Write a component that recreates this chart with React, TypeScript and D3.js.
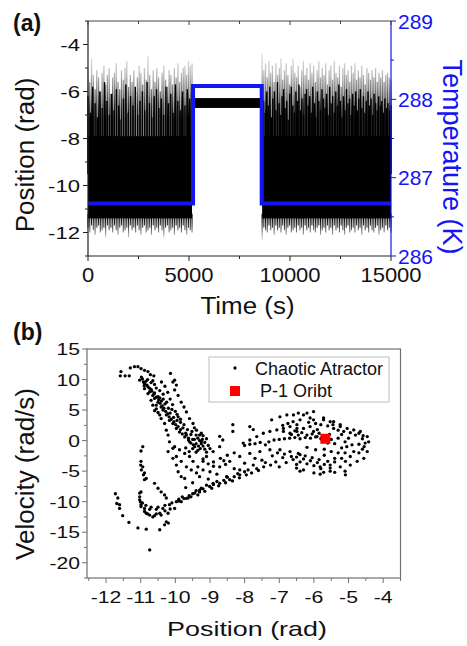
import React from "react";
import * as d3 from "d3";

const W = 467;
const H = 646;
const FONT = "'Liberation Sans', Arial, Helvetica, sans-serif";

// ---------- Panel (a) data ----------
const timeTicks = [0, 5000, 10000, 15000];
const timeMinor = [2500, 7500, 12500];
const posTicksA = [-12, -10, -8, -6, -4];
const posMinorA = [-13, -11, -9, -7, -5, -3];
const tempTicks = [286, 287, 288, 289];
const tempMinor = [286.5, 287.5, 288.5];

const chaosSeg1 = [0, 5150];
const chaosSeg2 = [8620, 15000];
const bodyRange = [-11.4, -7.9];

const peaks1 = [-5.0, -5.6, -4.6, -5.3, -5.9, -5.1, -5.4, -6.0, -5.2, -4.9, -5.7, -5.3, -5.0, -6.1, -5.4, -5.2, -4.8, -5.6, -5.9, -5.1,
  -5.5, -5.0, -4.7, -5.8, -5.3, -5.6, -5.1, -6.0, -5.4, -4.9, -5.2, -5.7, -5.0, -5.5, -4.5, -5.3, -5.9, -5.1, -5.6, -5.0,
  -5.4, -6.0, -5.2, -4.9, -5.5, -5.8, -5.1, -5.3, -5.7, -5.0, -5.4, -4.8, -5.6, -5.2, -5.0, -4.9, -5.3, -4.7, -4.9, -4.8];
const peaks2 = [-4.4, -5.1, -4.8, -5.4, -4.7, -5.2, -4.9, -5.6, -4.8, -5.3, -5.0, -4.6, -5.5, -5.1, -4.8, -5.3, -5.7, -4.9, -4.6, -5.2,
  -5.4, -4.9, -5.8, -5.1, -4.7, -5.3, -5.0, -5.5, -4.8, -5.2, -4.9, -5.6, -5.1, -4.7, -5.4, -5.0, -5.3, -4.8, -5.7, -5.1,
  -4.9, -5.5, -4.7, -5.2, -5.4, -4.9, -5.8, -5.0, -4.8, -5.3, -5.1, -5.6, -4.9, -5.2, -4.8, -5.5, -5.1, -5.4, -4.9, -5.3,
  -5.7, -5.0, -5.2, -5.5, -5.1, -5.4, -5.0, -5.6, -5.2, -5.4, -5.1, -5.6, -5.3, -5.2, -5.4, -5.5];
const darkPeaks1 = [-6.2, -6.9, -5.8, -6.5, -7.1, -6.0, -6.7, -5.6, -6.4, -7.0, -6.1, -6.8, -5.9, -6.6, -7.2, -6.3, -5.7, -6.9, -6.2, -6.6,
  -5.8, -7.0, -6.4, -6.0, -6.8, -5.6, -6.5, -7.1, -6.2, -5.9, -6.7, -6.3, -7.0, -5.8, -6.5, -6.1, -6.9, -5.7, -6.4, -6.8,
  -6.0, -6.6, -5.9, -6.3, -6.1];
const darkPeaks2 = [-5.7, -6.4, -6.9, -6.0, -6.6, -5.8, -7.1, -6.3, -6.0, -6.8, -5.6, -6.5, -7.0, -6.2, -5.9, -6.7, -6.4, -7.2, -6.1, -5.8,
  -6.6, -6.9, -6.0, -6.4, -5.7, -6.8, -6.3, -7.0, -6.1, -5.9, -6.6, -6.2, -6.9, -5.8, -6.5, -7.1, -6.0, -6.4, -6.8, -5.9,
  -6.3, -6.7, -6.1, -7.0, -5.8, -6.5, -6.2, -6.9, -6.0, -6.6, -5.7, -6.4, -7.1, -6.2, -6.8, -5.9, -6.5, -6.3, -7.0, -6.1,
  -6.6, -6.0, -6.8, -6.3, -5.9, -6.7, -6.2, -6.9, -6.4, -6.0, -6.6, -6.3, -7.0, -6.1, -6.5, -6.8, -6.2, -6.6, -6.4, -6.9,
  -6.3, -6.7, -6.5, -6.8, -6.6];
const troughs1 = [-11.8, -12.0, -11.7, -11.9, -12.1, -11.8, -11.7, -12.0, -11.9, -11.8, -12.2, -11.7, -11.9, -11.8, -12.0, -11.7, -11.9, -12.1, -11.8, -11.7,
  -12.0, -11.9, -11.8, -12.2, -11.7, -11.9, -11.8, -12.0, -11.7, -11.9, -12.1, -11.8, -11.7, -12.0, -11.9, -11.8, -12.1, -11.7, -11.9, -11.8,
  -12.0, -11.7, -11.9, -12.2, -11.8, -11.7, -12.0, -11.9, -11.8, -12.1, -11.7, -11.9, -11.8, -12.0, -11.7, -11.9, -12.1, -11.8, -11.9, -12.0];
const troughs2 = [-12.3, -11.8, -11.9, -12.0, -11.7, -11.9, -11.8, -12.1, -11.7, -11.9, -11.8, -12.0, -11.7, -11.9, -12.1, -11.8, -11.7, -12.0, -11.9, -11.8,
  -12.0, -11.7, -11.9, -11.8, -12.1, -11.7, -11.9, -11.8, -12.0, -11.7, -11.9, -12.0, -11.8, -11.7, -12.1, -11.9, -11.8, -12.0, -11.7, -11.9,
  -11.8, -12.1, -11.7, -11.9, -11.8, -12.0, -11.7, -11.9, -12.1, -11.8, -11.7, -12.0, -11.9, -11.8, -12.0, -11.7, -11.9, -11.8, -12.1, -11.7,
  -11.9, -11.8, -12.0, -11.7, -11.9, -12.0, -11.8, -11.7, -12.1, -11.9, -11.8, -12.0, -11.7, -11.9, -11.8, -12.0];

const p1BandTime = [5200, 8600];
const p1BandPos = [-6.7, -6.28];

const tempTimes = [0, 5200, 8600, 15000];
const tempValues = [286.67, 288.17, 286.67, 286.67];

// ---------- Panel (b) data ----------
const posTicksB = [-12, -11, -10, -9, -8, -7, -6, -5, -4];
const posMinorB = [-12.5, -11.5, -10.5, -9.5, -8.5, -7.5, -6.5, -5.5, -4.5, -3.5];
const velTicks = [15, 10, 5, 0, -5, -10, -15, -20];
const velMinor = [12.5, 7.5, 2.5, -2.5, -7.5, -12.5, -17.5, -22.5];

const attractor: [number, number][] = [
  [-11.59, 10.6], [-11.45, 10.6], [-11.33, 10.6], [-11.57, 11.3], [-11.3, 11.9], [-11.18, 12.1], [-11.08, 12.1], [-10.99, 11.8], [-10.89, 11.5], [-10.79, 11.3], [-10.72, 10.8], [-10.62, 10.6], [-10.14, 11.0], [-10.07, 9.6],
  [-11.03, 9.9], [-10.89, 9.3], [-10.79, 8.8], [-10.74, 8.0], [-10.65, 7.4], [-10.6, 6.9], [-10.5, 6.3], [-10.41, 5.5], [-10.36, 5.0], [-10.26, 4.2], [-10.17, 3.3], [-10.07, 2.8], [-9.97, 2.0], [-9.88, 1.4], [-9.73, 0.6], [-9.59, -0.2], [-9.44, -1.0],
  [-10.89, 8.5], [-10.79, 7.7], [-10.7, 6.6], [-10.65, 5.8], [-10.55, 5.2], [-10.45, 4.2], [-10.41, 3.6], [-10.31, 2.8], [-10.26, 1.7], [-10.21, 0.9],
  [-10.02, 9.9], [-9.97, 9.1], [-10.02, 8.3], [-9.92, 7.4], [-9.83, 6.3], [-9.75, 5.5], [-9.68, 4.7], [-9.59, 3.6], [-9.49, 2.8], [-9.39, 1.7], [-9.3, 0.9], [-9.25, -0.2],
  [-10.4, 9.6], [-10.3, 8.9], [-10.22, 7.9], [-10.15, 6.8], [-10.08, 5.9], [-10.0, 4.8], [-9.92, 3.9], [-9.85, 3.0], [-9.78, 2.1], [-9.7, 1.2],
  [-10.95, 10.1], [-10.85, 9.7], [-10.7, 9.5], [-10.6, 9.2], [-10.55, 8.6], [-10.45, 8.2], [-10.35, 7.6], [-10.5, 7.2], [-10.4, 6.5], [-10.3, 6.0], [-10.2, 5.3], [-10.15, 4.5], [-10.05, 3.8], [-9.95, 3.3], [-10.55, 5.8], [-10.6, 4.9], [-10.5, 4.6],
  [-10.98, 10.4], [-10.8, 10.0], [-10.65, 9.8], [-10.9, 9.0], [-10.7, 8.4], [-10.6, 7.8], [-10.45, 7.0], [-10.35, 6.8], [-10.25, 6.3], [-10.1, 5.1], [-9.95, 4.3], [-9.85, 3.5], [-9.75, 2.6], [-9.65, 1.8], [-9.55, 1.0], [-9.62, 0.4], [-9.5, 0.2],
  [-10.92, 9.6], [-10.82, 9.1], [-10.75, 8.6], [-10.68, 8.1], [-10.62, 7.6], [-10.55, 7.1], [-10.48, 6.7], [-10.44, 6.1], [-10.38, 5.7], [-10.33, 5.3], [-10.28, 4.8], [-10.22, 4.4], [-10.18, 3.9], [-10.12, 3.5], [-10.04, 3.1], [-9.99, 2.6], [-9.92, 2.3], [-9.85, 1.8], [-9.8, 1.1], [-9.68, 0.9], [-9.62, 0.1], [-9.55, -0.4], [-9.48, -0.7], [-9.4, 0.9], [-9.52, 1.5], [-9.45, 2.1],
  [-9.35, 0.4], [-9.3, 0.0], [-9.25, -0.5], [-9.2, -0.9], [-9.15, -0.3], [-9.1, 0.3], [-9.2, 0.8], [-9.28, -1.3], [-9.4, -0.5], [-9.35, -1.6], [-9.15, -1.4], [-9.05, -0.8], [-9.1, -1.9], [-9.25, 1.2], [-9.45, 0.2], [-9.5, -1.3], [-9.6, -1.8], [-9.7, -1.2], [-9.33, -0.9], [-9.22, 0.2], [-9.4, -1.9], [-9.0, -1.3],
  [-10.17, -0.2], [-10.07, -1.25], [-9.97, -2.6], [-9.83, -3.4], [-9.68, -4.3], [-9.54, -4.8], [-9.39, -5.3],
  [-10.02, -1.0], [-9.88, -1.5], [-9.73, -2.1], [-9.59, -2.6], [-9.49, -3.4], [-9.35, -4.3], [-9.2, -4.8],
  [-10.21, -1.8], [-10.07, -2.9], [-9.97, -4.0], [-9.92, -5.1], [-9.83, -5.9], [-9.73, -6.2],
  [-10.94, -1.0], [-10.99, -1.7], [-10.99, -3.4], [-11.0, -4.0], [-10.94, -4.3], [-10.98, -4.8], [-10.89, -5.3], [-10.92, -5.6], [-10.84, -6.2], [-10.89, -6.4],
  [-10.99, -8.4], [-11.03, -9.2], [-11.01, -10.0], [-10.99, -10.8], [-11.03, -8.6], [-11.03, -9.7], [-10.99, -10.5],
  [-10.89, -11.6], [-10.74, -12.2], [-10.6, -12.3], [-10.41, -12.2], [-10.21, -11.9], [-10.02, -11.1], [-9.83, -10.0], [-9.63, -9.4], [-9.44, -8.6], [-9.25, -7.8],
  [-10.89, -11.1], [-10.74, -11.25], [-10.55, -11.25], [-10.36, -11.1], [-10.17, -10.5], [-9.97, -10.0], [-9.68, -9.45], [-9.3, -8.4], [-9.01, -7.5], [-8.72, -7.0], [-8.43, -6.4], [-8.14, -5.6],
  [-10.95, -10.2], [-10.85, -10.6], [-10.7, -10.9], [-10.5, -10.9], [-10.3, -10.6], [-10.1, -10.2], [-9.9, -9.6], [-9.8, -9.2], [-9.6, -9.0], [-9.5, -8.7], [-9.4, -8.2], [-9.2, -7.9], [-9.1, -7.3], [-8.9, -7.2], [-8.8, -6.7], [-8.6, -6.5], [-8.5, -6.0], [-8.3, -5.9], [-8.2, -5.4], [-8.0, -5.1], [-7.9, -4.8],
  [-9.9, -9.9], [-9.75, -9.5], [-9.55, -9.2], [-9.35, -8.9], [-9.15, -8.3], [-8.95, -7.8], [-8.75, -7.4], [-8.55, -6.9], [-8.35, -6.6], [-8.15, -6.1], [-7.95, -5.6], [-7.8, -5.3], [-7.65, -4.6], [-7.45, -4.3], [-7.25, -4.0], [-10.8, -12.0], [-10.55, -12.0], [-10.3, -11.5], [-10.15, -11.2],
  [-10.84, -11.9], [-10.65, -12.5], [-10.45, -11.9],
  [-11.73, -8.7], [-11.69, -10.3], [-11.61, -11.1], [-11.52, -12.3], [-11.34, -13.4], [-11.08, -14.3], [-10.84, -14.5], [-10.45, -14.6], [-10.26, -13.3], [-10.2, -13.5], [-10.74, -17.9], [-11.66, -9.4], [-11.61, -10.5], [-10.31, -13.8],
  [-10.6, -7.0], [-10.5, -7.8], [-10.41, -8.4], [-10.31, -8.9], [-10.26, -9.4],
  [-9.3, -5.9], [-9.0, -5.1], [-8.72, -4.3], [-8.43, -3.4], [-8.14, -2.6], [-7.85, -2.1], [-7.56, -1.8], [-7.27, -1.5], [-6.98, -1.5], [-6.69, -1.8], [-6.4, -2.3],
  [-9.3, -8.1], [-8.91, -7.0], [-8.52, -5.9], [-8.14, -4.8], [-7.75, -4.0], [-7.4, -3.6], [-7.1, -3.5], [-6.8, -3.6], [-6.5, -3.9],
  [-8.9, -4.2], [-8.6, -3.3], [-8.3, -4.6], [-8.0, -3.7], [-7.7, -2.9], [-7.5, -3.2], [-7.2, -2.5], [-6.9, -2.8], [-7.0, -4.3], [-7.6, -4.9], [-8.8, -5.5], [-9.05, -6.3], [-8.55, -3.9], [-9.5, -6.9], [-9.7, -7.7],
  [-9.2, -3.0], [-9.05, -3.8], [-8.9, -3.5], [-8.7, -2.9], [-8.5, -2.4], [-8.3, -2.0],
  [-8.04, -0.4], [-7.85, 0.1], [-7.65, 0.66], [-7.46, 1.2], [-7.27, 1.5], [-7.07, 1.75], [-6.88, 2.0], [-6.69, 2.3], [-6.49, 2.6],
  [-8.34, 2.6], [-8.34, 1.5], [-7.85, 2.3], [-7.75, 1.8], [-7.22, 3.4], [-6.98, 3.9], [-6.78, 4.2], [-6.59, 4.2], [-6.45, 4.5], [-6.88, 1.5], [-6.69, 1.2], [-6.49, 1.5], [-8.72, -1.0], [-8.63, 0.1], [-8.72, 0.7], [-8.91, -1.8], [-9.1, -2.6], [-9.2, -3.4],
  [-8.0, -0.8], [-7.85, -0.6], [-7.7, -0.5], [-7.55, -0.3], [-7.4, -0.7], [-7.3, -0.2], [-7.15, 0.1], [-7.0, 0.2], [-6.85, 0.3], [-6.7, 0.4], [-6.55, 0.5], [-6.4, 0.3], [-6.25, 0.5], [-6.1, 0.4], [-5.95, 0.6], [-5.8, 0.3],
  [-6.3, 4.2], [-6.01, 3.4], [-5.72, 3.4], [-5.43, 3.1], [-5.24, 2.6], [-5.04, 2.0], [-4.85, 1.75], [-4.66, 1.5], [-4.46, 0.66], [-4.42, -0.2],
  [-6.2, 4.5], [-6.11, 3.7], [-6.01, 4.75], [-5.72, 3.7], [-5.53, 3.1], [-5.43, 2.0], [-5.24, 2.3], [-5.14, 1.5],
  [-6.49, 2.0], [-6.3, 2.0], [-6.11, 2.3], [-6.01, 1.5], [-5.91, 0.66],
  [-5.0, 0.4], [-4.9, -0.7], [-4.85, -1.8], [-4.95, -2.6], [-5.09, -3.4],
  [-4.46, -1.8], [-4.56, -2.9], [-4.75, -3.4], [-4.95, -4.0], [-5.24, -4.3], [-5.53, -4.5], [-5.82, -4.3],
  [-6.5, -2.7], [-6.3, -3.0], [-6.1, -3.3], [-5.9, -3.6], [-5.7, -3.9], [-5.53, -4.0], [-6.6, -3.1], [-6.4, -3.5], [-6.2, -3.8], [-6.0, -4.1], [-5.8, -4.6], [-6.3, -4.8], [-6.0, -5.3], [-5.4, -5.2], [-5.1, -5.0], [-6.5, -4.5],
  [-6.65, 1.0], [-6.55, 1.6], [-6.45, 0.9], [-6.35, 1.3], [-6.2, 0.9], [-6.05, 1.1], [-5.9, 1.8], [-5.85, 1.2], [-5.75, 0.8], [-5.55, 1.0], [-5.5, 0.2], [-5.4, -0.5], [-5.3, 0.4], [-5.6, -0.4],
  [-6.2, -1.1], [-5.95, -1.5], [-5.7, -1.4], [-5.5, -1.8], [-5.3, -2.0], [-5.7, -2.4], [-5.4, -2.9], [-5.2, -1.2], [-4.7, -0.6], [-4.6, 0.3], [-4.55, -1.0], [-4.8, 0.9], [-4.7, -2.0],
  [-6.9, 2.5], [-6.75, 2.8], [-6.6, 3.1], [-6.4, 3.4], [-6.15, 3.0], [-5.95, 2.8], [-5.8, 2.6], [-5.6, 2.4], [-5.45, 2.6], [-5.3, 1.7], [-5.2, 1.0], [-5.1, -0.2], [-5.05, -1.0], [-5.1, -2.0], [-5.2, -2.9], [-5.4, -3.5], [-5.6, -3.4], [-5.85, -3.1], [-6.05, -2.8], [-6.25, -2.5], [-6.45, -2.1], [-6.65, -2.6], [-6.85, -2.2], [-7.05, -2.0], [-4.6, -1.4], [-4.52, -0.4], [-4.58, 0.8], [-4.7, 1.2], [-4.95, 1.3],
  [-6.4, -5.0], [-5.82, -5.5], [-5.72, -5.2], [-5.53, -5.0], [-5.09, -5.6],
];
const p1Orbit: [number, number][] = [[-5.67, 0.3]];
const legendLabels = ["Chaotic Atractor", "P-1 Oribt"];

// ---------- helpers ----------
function Txt(props: {
  x: number; y: number; size: number; sx?: number; rot?: number; anchor?: string;
  fill?: string; weight?: string; children: React.ReactNode;
}) {
  const { x, y, size, sx = 1, rot = 0, anchor = "middle", fill = "#111", weight = "normal", children } = props;
  return (
    <text
      transform={`translate(${x},${y}) rotate(${rot}) scale(${sx},1)`}
      fontSize={size}
      fontFamily={FONT}
      textAnchor={anchor}
      fill={fill}
      fontWeight={weight}
    >
      {children}
    </text>
  );
}

export default function App() {
  const xA = d3.scaleLinear().domain([0, 15000]).range([88, 391]);
  const yA = d3.scaleLinear().domain([-13, -3]).range([256, 21]);
  const yT = d3.scaleLinear().domain([286, 289]).range([256, 21]);

  const xB = d3.scaleLinear().domain([-12.55, -3.5]).range([87, 400.5]);
  const yB = d3.scaleLinear().domain([-22.5, 15]).range([578, 349]);

  const idxScale = (arr: number[], seg: number[]) => d3.scaleLinear().domain([0, arr.length - 1]).range(seg);

  const tempLine = d3
    .line<number>()
    .x((_, i) => xA(tempTimes[i]))
    .y((d) => yT(d))
    .curve(d3.curveStepAfter)(tempValues) as string;

  const [a0, a1] = [xA.range()[0], xA.range()[1]];
  const [b0, b1] = [xB.range()[0], xB.range()[1]];
  const axisA = "#222";
  const axisB = "#707070";
  const blue = "#1414f5";

  const spikes = (peaks: number[], dark: number[], troughs: number[], seg: number[], key: string) => {
    const sp = idxScale(peaks, seg);
    const sd = idxScale(dark, seg);
    const st = idxScale(troughs, seg);
    return (
      <g key={key}>
        {peaks.map((p, i) => (
          <line key={"p" + i} x1={xA(sp(i))} x2={xA(sp(i))} y1={yA(-9.5)} y2={yA(p)} stroke="url(#spkGrad)" strokeWidth={1.3} />
        ))}
        {dark.map((p, i) => (
          <line key={"d" + i} x1={xA(sd(i))} x2={xA(sd(i))} y1={yA(-9.5)} y2={yA(p)} stroke="#000" strokeWidth={1.4} />
        ))}
        {troughs.map((t, i) => (
          <line key={"t" + i} x1={xA(st(i))} x2={xA(st(i))} y1={yA(-11.2)} y2={yA(t)} stroke="url(#trGrad)" strokeWidth={1.1} />
        ))}
      </g>
    );
  };

  return (
    <svg width={W} height={H} style={{ position: "absolute", left: 0, top: 0, background: "#fff" }}>
      <defs>
        <linearGradient id="spkGrad" gradientUnits="userSpaceOnUse" x1={0} x2={0} y1={yA(-4.4)} y2={yA(-7.2)}>
          <stop offset="0" stopColor="#e2e2e2" />
          <stop offset="0.3" stopColor="#bababa" />
          <stop offset="0.55" stopColor="#7a7a7a" />
          <stop offset="0.8" stopColor="#2a2a2a" />
          <stop offset="1" stopColor="#000" />
        </linearGradient>
        <linearGradient id="trGrad" gradientUnits="userSpaceOnUse" x1={0} x2={0} y1={yA(-11.4)} y2={yA(-12.2)}>
          <stop offset="0" stopColor="#000" />
          <stop offset="0.45" stopColor="#444" />
          <stop offset="1" stopColor="#c8c8c8" />
        </linearGradient>
      </defs>

      {/* ================= Panel (a) ================= */}
      <Txt x={13} y={31} size={23} anchor="start" weight="bold">(a)</Txt>

      {[chaosSeg1, chaosSeg2].map((s, i) => (
        <rect key={i} x={xA(s[0])} width={xA(s[1]) - xA(s[0])} y={yA(bodyRange[1])} height={yA(bodyRange[0]) - yA(bodyRange[1])} fill="#000" />
      ))}
      {spikes(peaks1, darkPeaks1, troughs1, chaosSeg1, "s1")}
      {spikes(peaks2, darkPeaks2, troughs2, chaosSeg2, "s2")}
      <rect x={xA(p1BandTime[0])} width={xA(p1BandTime[1]) - xA(p1BandTime[0])} y={yA(p1BandPos[1])} height={yA(p1BandPos[0]) - yA(p1BandPos[1])} fill="#000" />
      <path d={tempLine} fill="none" stroke={blue} strokeWidth={4} />

      <line x1={a0} x2={a1} y1={21} y2={21} stroke="#444" strokeWidth={1} />
      <line x1={a0} x2={a0} y1={21} y2={256} stroke={axisA} strokeWidth={1.2} />
      <line x1={a0} x2={a1} y1={256} y2={256} stroke={axisA} strokeWidth={1.2} />
      <line x1={a1} x2={a1} y1={21} y2={256} stroke={blue} strokeWidth={1.2} />

      {timeTicks.map((t) => (
        <g key={t}>
          <line x1={xA(t)} x2={xA(t)} y1={256} y2={261} stroke={axisA} />
          <line x1={xA(t)} x2={xA(t)} y1={21} y2={25} stroke="#444" />
          <Txt x={xA(t)} y={282} size={20} sx={1.1}>{String(t)}</Txt>
        </g>
      ))}
      {timeMinor.map((t) => (
        <g key={t}>
          <line x1={xA(t)} x2={xA(t)} y1={256} y2={259} stroke={axisA} />
          <line x1={xA(t)} x2={xA(t)} y1={21} y2={24} stroke="#444" />
        </g>
      ))}
      {posTicksA.map((v) => (
        <g key={v}>
          <line x1={a0 - 5} x2={a0} y1={yA(v)} y2={yA(v)} stroke={axisA} />
          <Txt x={80} y={yA(v) + 6} size={17} sx={1.3} anchor="end">{String(v)}</Txt>
        </g>
      ))}
      {posMinorA.map((v) => (
        <line key={v} x1={a0 - 3} x2={a0} y1={yA(v)} y2={yA(v)} stroke={axisA} />
      ))}
      {tempTicks.map((v) => (
        <g key={v}>
          <line x1={a1} x2={a1 + 5} y1={yT(v)} y2={yT(v)} stroke={blue} />
          <Txt x={398} y={yT(v) + 7.5} size={21} anchor="start" fill={blue}>{String(v)}</Txt>
        </g>
      ))}
      {tempMinor.map((v) => (
        <line key={v} x1={a1} x2={a1 + 3} y1={yT(v)} y2={yT(v)} stroke={blue} />
      ))}

      <Txt x={247.5} y={314} size={24} sx={1.08}>Time (s)</Txt>
      <Txt x={34} y={155} size={26} rot={-90}>Position (rad)</Txt>
      <Txt x={443} y={157} size={27} rot={90} fill={blue}>Temperature (K)</Txt>

      {/* ================= Panel (b) ================= */}
      <Txt x={13} y={340} size={23} anchor="start" weight="bold">(b)</Txt>

      <rect x={b0} y={349} width={b1 - b0} height={578 - 349} fill="none" stroke={axisB} strokeWidth={1.2} />

      {attractor.map((d, i) => (
        <circle key={i} cx={xB(d[0])} cy={yB(d[1])} r={1.65} fill="#000" />
      ))}
      {p1Orbit.map((d, i) => (
        <rect key={i} x={xB(d[0]) - 5} y={yB(d[1]) - 5} width={10} height={10} fill="#ff0000" />
      ))}

      {posTicksB.map((v) => (
        <g key={v}>
          <line x1={xB(v)} x2={xB(v)} y1={578} y2={583} stroke={axisB} />
          <Txt x={xB(v)} y={602.5} size={17} sx={1.25}>{String(v)}</Txt>
        </g>
      ))}
      {posMinorB.map((v) => (
        <line key={v} x1={xB(v)} x2={xB(v)} y1={578} y2={581} stroke={axisB} />
      ))}
      {velTicks.map((v) => (
        <g key={v}>
          <line x1={b0 - 5} x2={b0} y1={yB(v)} y2={yB(v)} stroke={axisB} />
          <Txt x={80} y={yB(v) + 6} size={16.5} sx={1.28} anchor="end">{String(v)}</Txt>
        </g>
      ))}
      {velMinor.map((v) => (
        <line key={v} x1={b0 - 3} x2={b0} y1={yB(v)} y2={yB(v)} stroke={axisB} />
      ))}

      <rect x={209} y={357} width={180} height={45} fill="#fff" stroke="#bdbdbd" strokeWidth={1} />
      <circle cx={235} cy={368} r={1.65} fill="#000" />
      <Txt x={255} y={374.5} size={18} anchor="start">{legendLabels[0]}</Txt>
      <rect x={230} y={386} width={10} height={10} fill="#ff0000" />
      <Txt x={260} y={397} size={18} anchor="start">{legendLabels[1]}</Txt>

      <Txt x={247} y={636} size={21} sx={1.28}>Position (rad)</Txt>
      <Txt x={34} y={474} size={26} rot={-90}>Velocity (rad/s)</Txt>
    </svg>
  );
}
